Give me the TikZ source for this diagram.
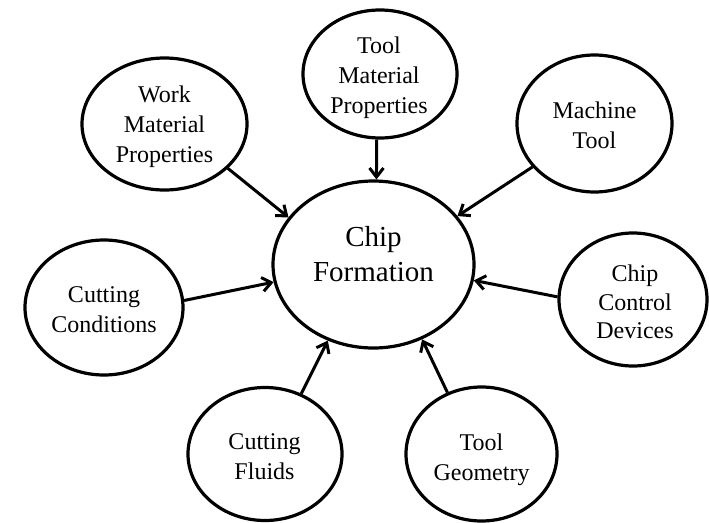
\documentclass[tikz,border=0pt]{standalone}
\usepackage{fontspec}
\setmainfont{Liberation Serif}
\usetikzlibrary{shapes.geometric,arrows.meta}
\begin{document}
\begin{tikzpicture}[x=1pt,y=-1pt,
  bubble/.style={ellipse, draw, line width=3.2pt, inner sep=0pt},
  lbl/.style={align=center, inner sep=0pt, font=\fontsize{24}{30}\selectfont},
  hublbl/.style={align=center, inner sep=0pt, font=\fontsize{29}{35}\selectfont},
  feed/.style={line width=3pt, -{Straight Barb[length=9pt,width=14pt]}}]
\useasboundingbox (0,0) rectangle (709,522);

% central factor
\node[bubble, minimum width=201pt, minimum height=167pt] (cf) at (373.5,264.5) {};
\node[hublbl] (cf-t) at (373.5,253.6) {Chip\\Formation};

% surrounding influences
\node[bubble, minimum width=165pt, minimum height=132pt] (wm) at (164.5,124) {};
\node[lbl] (wm-t) at (164.5,126.9) {Work\\Material\\Properties};

\node[bubble, minimum width=154pt, minimum height=128pt] (tm) at (380,74) {};
\node[lbl] (tm-t) at (379,77.4) {Tool\\Material\\Properties};

\node[bubble, minimum width=155pt, minimum height=137pt] (mt) at (594.5,123.5) {};
\node[lbl] (mt-t) at (594.5,124.8) {Machine\\Tool};

\node[bubble, minimum width=158pt, minimum height=135pt] (cc) at (104,307.5) {};
\node[lbl] (cc-t) at (104,310) {Cutting\\Conditions};

\node[bubble, minimum width=148pt, minimum height=133pt] (ccd) at (633,299.5) {};
\node[lbl, font=\fontsize{24}{28.5}\selectfont] (ccd-t) at (635,301.8) {Chip\\Control\\Devices};

\node[bubble, minimum width=151pt, minimum height=134pt] (tg) at (481.5,454) {};
\node[lbl] (tg-t) at (481.5,459.4) {Tool\\Geometry};

\node[bubble, minimum width=154pt, minimum height=133pt] (cfl) at (265,454) {};
\node[lbl] (cfl-t) at (264.5,457) {Cutting\\Fluids};

% influence arrows
\draw[feed] (wm.-35)  -- (cf.151);
\draw[feed] (tm.-93)  -- (cf.88);
\draw[feed] (mt.215)  -- (cf.30);
\draw[feed] (cc.5)    -- (cf.190);
\draw[feed] (ccd.178) -- (cf.-9);
\draw[feed] (tg.119)  -- (cf.-57);
\draw[feed] (cfl.59)  -- (cf.239);
\end{tikzpicture}
\end{document}
